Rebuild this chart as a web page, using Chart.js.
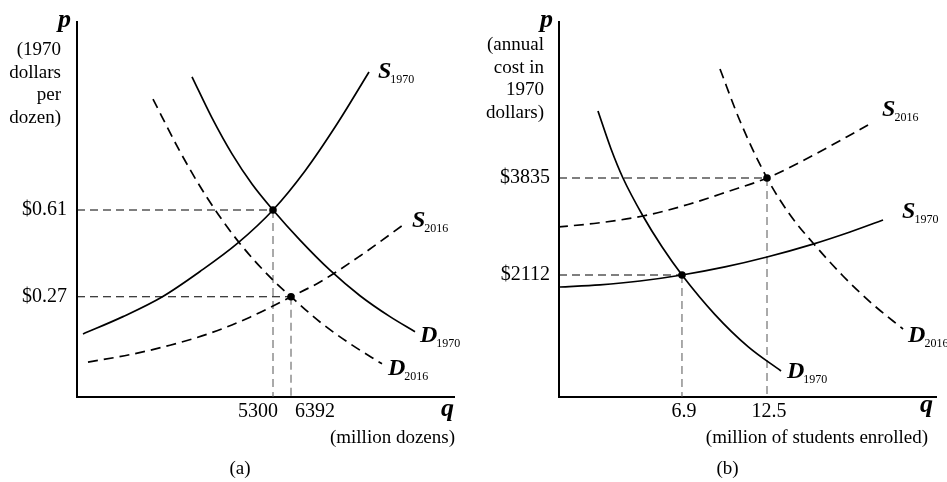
<!DOCTYPE html>
<html><head><meta charset="utf-8">
<script src="https://cdn.jsdelivr.net/npm/chart.js@4.4.1/dist/chart.umd.min.js"></script>
<style>
html,body{margin:0;padding:0;background:#fff;}
#wrap{position:relative;width:947px;height:482px;overflow:hidden;background:#fff;}
.panel{position:absolute;top:0;}
canvas{display:block;}
</style></head><body>
<div id="wrap">
  <div class="panel" style="left:0"><canvas id="ca" width="473" height="482"></canvas></div>
  <div class="panel" style="left:473px"><canvas id="cb" width="474" height="482"></canvas></div>
</div>
<script>
// ---------------- Panel (a): eggs ----------------
const eggsQTicks = [5300, 6392];
const eggsPTicks = [0.27, 0.61];
const eggsEquilibria = [[5300, 0.61], [6392, 0.27]];
const eggsS1970 = [[-6227,0.124],[-3800,0.192],[-1434,0.269],[871,0.369],[3177,0.481],[5300,0.61],[7241,0.763],[9183,0.947],[11124,1.151]];
const eggsD1970 = [[386,1.132],[1599,0.971],[2813,0.83],[4026,0.712],[5300,0.61],[6938,0.492],[8758,0.374],[10578,0.274],[12398,0.192],[13915,0.133]];
const eggsS2016 = [[-5923,0.014],[-3375,0.043],[-949,0.08],[1478,0.127],[3905,0.19],[6392,0.27],[8151,0.328],[10578,0.43],[13187,0.551]];
const eggsD2016 = [[-1980,1.045],[-342,0.839],[1296,0.659],[3177,0.488],[5300,0.335],[6392,0.27],[8151,0.171],[9971,0.086],[11913,0.007]];
const eggsYTitle = ['(1970', 'dollars', 'per', 'dozen)'];
const eggsXTitle = '(million dozens)';

// ---------------- Panel (b): college ----------------
const collegeQTicks = [6.9, 12.5];
const collegePTicks = [2112, 3835];
const collegeEquilibria = [[6.9, 2112], [12.5, 3835]];
const collegeD1970 = [[1.366,5025],[2.222,4355],[3.013,3835],[4.331,3160],[5.582,2613],[6.9,2112],[9.074,1409],[11.248,840],[13.422,407]];
const collegeS1970 = [[-1.138,1899],[1.498,1938],[4.133,2005],[6.9,2112],[9.733,2256],[12.5,2432],[15.531,2661],[17.968,2876],[20.142,3089]];
const collegeS2016 = [[-1.269,2965],[1.366,3036],[4.331,3160],[7.295,3364],[9.931,3595],[12.5,3835],[15.201,4190],[19.154,4776]];
const collegeD2016 = [[9.404,5771],[10.721,4847],[12.5,3835],[14.015,3181],[15.531,2680],[17.507,2094],[19.483,1588],[21.46,1153]];
const collegeYTitle = ['(annual', 'cost in', '1970', 'dollars)'];
const collegeXTitle = '(million of students enrolled)';

const FONT = "'Liberation Serif', 'Times New Roman', serif";
const pts = arr => arr.map(([x, y]) => ({x, y}));

function makePlugin(d) {
  return {
    id: 'econLabels',
    afterDraw(chart) {
      const ctx = chart.ctx;
      const xs = chart.scales.x, ys = chart.scales.y;
      const ca = chart.chartArea;
      ctx.save();
      ctx.fillStyle = '#000';
      // axis symbols
      ctx.font = `bold italic 26px ${FONT}`;
      ctx.textAlign = 'right'; ctx.textBaseline = 'alphabetic';
      ctx.fillText('p', ca.left - 6, 27);
      ctx.fillText('q', ca.right + d.qDx, d.qBase);
      // y title
      ctx.font = `19px ${FONT}`;
      ctx.textAlign = 'right'; ctx.textBaseline = 'middle';
      d.yTitle.forEach((t, i) => ctx.fillText(t, ca.left - d.yTitleGap, d.yTitleTop + i * 22.6));
      // x title
      ctx.fillText(d.xTitle, ca.right + d.xTitleDx, 438);
      // panel letter
      ctx.textAlign = 'center';
      ctx.fillText(d.panel, xs.getPixelForValue(d.panelAt), 469);
      // y tick labels
      ctx.font = `20px ${FONT}`;
      ctx.textAlign = 'right'; ctx.textBaseline = 'middle';
      d.pTicks.forEach(v => ctx.fillText(d.pFmt(v), ca.left - d.yTickPad, ys.getPixelForValue(v)));
      // x tick labels
      ctx.textAlign = 'center'; ctx.textBaseline = 'alphabetic';
      d.qTicks.forEach((v, i) => ctx.fillText(d.qFmt(v), xs.getPixelForValue(v) + d.qTickDx[i], 417));
      // curve labels
      d.curves.forEach((c, i) => {
        const meta = chart.getDatasetMeta(i + 1);
        const last = meta.data[meta.data.length - 1];
        const x = last.x + c.dx, y = last.y + c.dy;
        ctx.textAlign = 'left';
        ctx.font = `bold italic 24px ${FONT}`;
        ctx.fillText(c.name, x, y);
        const w = ctx.measureText(c.name).width;
        ctx.font = `12px ${FONT}`;
        ctx.fillText(c.sub, x + w - 1, y + 5);
      });
      ctx.restore();
    }
  };
}

function build(canvasId, d) {
  const guides = [];
  d.eq.forEach(([q, p]) => {
    guides.push({data: pts([[d.xMin, p], [q, p]]), color: '#000', width: 1.2});
    guides.push({data: pts([[q, p], [q, d.yMin]]), color: '#555', width: 1});
  });
  const datasets = [
    {label: 'eq', data: pts(d.eq), showLine: false, pointRadius: 3.8, pointBackgroundColor: '#000', pointBorderWidth: 0},
    ...d.curves.map(c => ({label: c.name + c.sub, data: pts(c.data), borderColor: '#000', borderWidth: 1.7,
      borderDash: c.dashed ? [10, 6] : [], pointRadius: 0, fill: false, cubicInterpolationMode: 'monotone'})),
    ...guides.map(g => ({label: 'guide', data: g.data, borderColor: g.color, borderWidth: g.width,
      borderDash: [8, 5], pointRadius: 0, fill: false, tension: 0}))
  ];
  return new Chart(document.getElementById(canvasId), {
    type: 'line',
    data: {datasets},
    plugins: [makePlugin(d)],
    options: {
      responsive: false, animation: false, devicePixelRatio: 1,
      layout: {padding: d.padding},
      plugins: {legend: {display: false}, tooltip: {enabled: false}, title: {display: false}},
      scales: {
        x: {
          type: 'linear', position: 'bottom', min: d.xMin, max: d.xMax,
          grid: {display: false, drawTicks: false},
          border: {display: true, color: '#000', width: 2},
          ticks: {display: false},
          afterBuildTicks: s => { s.ticks = d.qTicks.map(v => ({value: v})); },
          afterFit: s => { s.height = 0; }
        },
        y: {
          type: 'linear', position: 'left', min: d.yMin, max: d.yMax,
          grid: {display: false, drawTicks: false},
          border: {display: true, color: '#000', width: 2},
          ticks: {display: false},
          afterBuildTicks: s => { s.ticks = d.pTicks.map(v => ({value: v})); },
          afterFit: s => { s.width = 0; }
        }
      }
    }
  });
}

build('ca', {
  xMin: -6590, xMax: 16280, yMin: -0.123, yMax: 1.347,
  padding: {left: 77, right: 19, top: 22, bottom: 85},
  eq: eggsEquilibria, qTicks: eggsQTicks, pTicks: eggsPTicks,
  qTickDx: [-15, 24], qFmt: v => String(v), pFmt: v => '$' + v.toFixed(2),
  yTickPad: 10, yTitle: eggsYTitle, yTitleGap: 16, yTitleTop: 50, xTitle: eggsXTitle,
  qBase: 416, qDx: 0, xTitleDx: 1, panel: '(a)', panelAt: 3300,
  curves: [
    {name: 'S', sub: '1970', data: eggsS1970, dashed: false, dx: 9, dy: 6},
    {name: 'D', sub: '1970', data: eggsD1970, dashed: false, dx: 5, dy: 10},
    {name: 'S', sub: '2016', data: eggsS2016, dashed: true, dx: 9, dy: 2},
    {name: 'D', sub: '2016', data: eggsD2016, dashed: true, dx: 6, dy: 11}
  ]
});

build('cb', {
  xMin: -1.2, xMax: 23.63, yMin: -55, yMax: 6606,
  padding: {left: 86, right: 11, top: 22, bottom: 85},
  eq: collegeEquilibria, qTicks: collegeQTicks, pTicks: collegePTicks,
  qTickDx: [2, 2], qFmt: v => String(v), pFmt: v => '$' + v,
  yTickPad: 9, yTitle: collegeYTitle, yTitleGap: 15, yTitleTop: 45, xTitle: collegeXTitle,
  qBase: 412, qDx: -3, xTitleDx: -8, panel: '(b)', panelAt: 9.9,
  curves: [
    {name: 'D', sub: '1970', data: collegeD1970, dashed: false, dx: 6, dy: 7},
    {name: 'S', sub: '1970', data: collegeS1970, dashed: false, dx: 19, dy: -2},
    {name: 'S', sub: '2016', data: collegeS2016, dashed: true, dx: 14, dy: -9},
    {name: 'D', sub: '2016', data: collegeD2016, dashed: true, dx: 5, dy: 13}
  ]
});
</script>
</body></html>
